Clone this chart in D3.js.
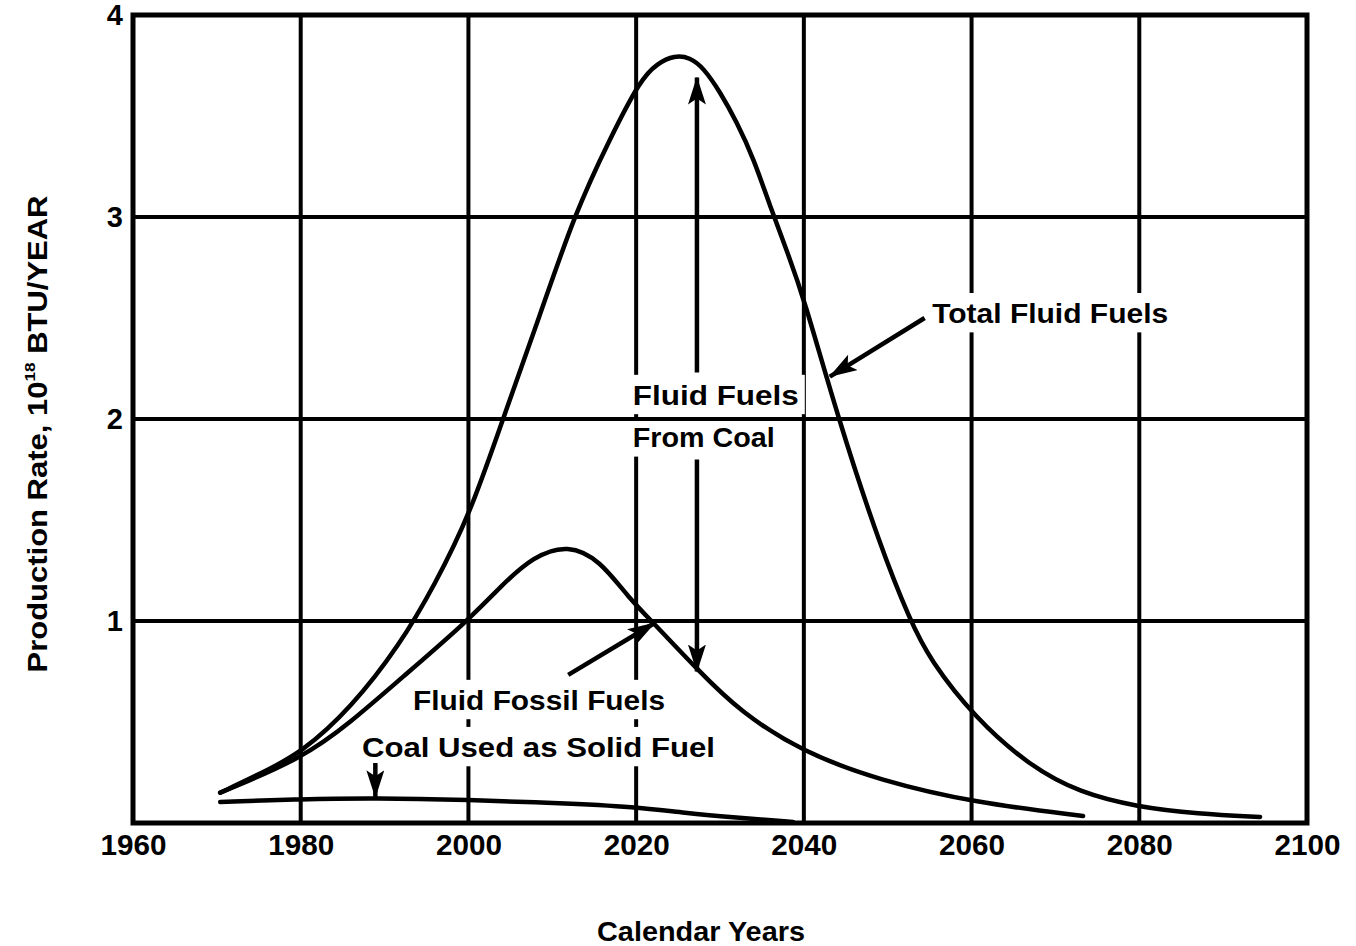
<!DOCTYPE html>
<html>
<head>
<meta charset="utf-8">
<script src="https://cdn.jsdelivr.net/npm/d3@7"></script>
<style>
  html, body { margin: 0; padding: 0; background: #fff; }
  svg { display: block; }
  text { font-family: "Liberation Sans", Arial, sans-serif; font-weight: bold; fill: #000; }
</style>
</head>
<body>
<svg id="chart" width="1356" height="946"></svg>
<script>
// ---------- data ----------
const xTickYears = [1960, 1980, 2000, 2020, 2040, 2060, 2080, 2100];
const yTickValues = [1, 2, 3, 4];
const gridYears = [1980, 2000, 2020, 2040, 2060, 2080];
const gridValues = [1, 2, 3];

const totalYears  = [1970.4, 1975.0, 1980.2, 1986.0, 1991.8, 1996.0, 2000.2, 2004.1, 2008.5, 2012.7, 2016.9, 2020.5, 2022.5, 2024.6, 2026.4, 2028.0, 2030.0, 2032.0, 2034.0, 2036.0, 2038.0, 2040.0, 2044.1, 2049.1, 2052.7, 2055.0, 2060.4, 2067.0, 2072.9, 2079.7, 2087.0, 2094.4];
const totalValues = [0.15,   0.24,   0.35,   0.57,   0.88,   1.18,   1.53,   2.00,   2.51,   3.02,   3.39,   3.68,   3.76,   3.80,   3.79,   3.74,   3.62,   3.47,   3.29,   3.05,   2.83,   2.60,   2.00,   1.37,   1.00,   0.81,   0.52,   0.28,   0.15,   0.08,   0.045,  0.03];

const fossilYears  = [1970.4, 1980.2, 1986.0, 1991.8, 1999.9, 2003.8, 2007.7, 2011.9, 2015.7, 2019.0, 2022.3, 2027.3, 2032.4, 2039.9, 2049.1, 2060.4, 2073.3];
const fossilValues = [0.15,   0.32,   0.50,   0.71,   1.00,   1.17,   1.32,   1.38,   1.30,   1.12,   0.98,   0.76,   0.55,   0.35,   0.21,   0.10,   0.035];

const coalYears  = [1970.4, 1980.0, 1988.9, 2000.2, 2010.0, 2020.2, 2025.6, 2032.4, 2038.7];
const coalValues = [0.104,  0.118,  0.124,  0.114,  0.100,  0.080,  0.050,  0.025,  0.005];

// annotation labels (data units)
const labels = [
  { text: "Total Fluid Fuels",       year: 2055.3, value: 2.475, len: 236 },
  { text: "Fluid Fuels",             year: 2019.6, value: 2.07,  len: 166 },
  { text: "From Coal",               year: 2019.6, value: 1.86,  len: 142 },
  { text: "Fluid Fossil Fuels",      year: 1993.4, value: 0.56,  len: 252 },
  { text: "Coal Used as Solid Fuel", year: 1987.3, value: 0.327, len: 353 }
];
// annotation arrows (data units), arrowhead at the end point
const arrows = [
  { x1: 2054.4, y1: 2.50, x2: 2043.1, y2: 2.21 },
  { x1: 2027.25, y1: 2.23, x2: 2027.25, y2: 3.69 },
  { x1: 2027.25, y1: 1.80, x2: 2027.25, y2: 0.75 },
  { x1: 2011.9, y1: 0.733, x2: 2022.2, y2: 0.99 },
  { x1: 1988.9, y1: 0.297, x2: 1988.9, y2: 0.128 }
];

// ---------- layout ----------
const plotLeft = 133, plotRight = 1307, plotTop = 15, plotBottom = 823;

const svg = d3.select("#chart");
const x = d3.scaleLinear().domain([1960, 2100]).range([plotLeft, plotRight]);
const y = d3.scaleLinear().domain([0, 4]).range([plotBottom, plotTop]);

svg.append("defs").append("marker")
  .attr("id", "arrowhead")
  .attr("markerUnits", "userSpaceOnUse")
  .attr("viewBox", "0 0 28 18")
  .attr("markerWidth", 28).attr("markerHeight", 18)
  .attr("refX", 27).attr("refY", 9)
  .attr("orient", "auto")
  .append("path").attr("d", "M0,0 L28,9 L0,18 L6,9 Z").attr("fill", "#000");

// vertical grid lines
svg.append("g").selectAll("line").data(gridYears).join("line")
  .attr("x1", d => x(d)).attr("x2", d => x(d))
  .attr("y1", plotTop).attr("y2", plotBottom)
  .attr("stroke", "#000").attr("stroke-width", 4);

// white knock-out boxes behind the labels
const fontSize = 28;
svg.append("g").selectAll("rect").data(labels).join("rect")
  .attr("x", d => x(d.year) - 6).attr("y", d => y(d.value) - fontSize * 0.93 - 4)
  .attr("width", d => d.len + 12).attr("height", fontSize * 1.12 + 8)
  .attr("fill", "#fff");

// horizontal grid lines
svg.append("g").selectAll("line").data(gridValues).join("line")
  .attr("x1", plotLeft).attr("x2", plotRight)
  .attr("y1", d => y(d)).attr("y2", d => y(d))
  .attr("stroke", "#000").attr("stroke-width", 4);

// frame
svg.append("rect")
  .attr("x", plotLeft).attr("y", plotTop)
  .attr("width", plotRight - plotLeft).attr("height", plotBottom - plotTop)
  .attr("fill", "none").attr("stroke", "#000").attr("stroke-width", 5);

// curves
const line = d3.line().x(d => x(d[0])).y(d => y(d[1])).curve(d3.curveBasis);
const series = [
  d3.zip(totalYears, totalValues),
  d3.zip(fossilYears, fossilValues),
  d3.zip(coalYears, coalValues)
];
svg.append("g").selectAll("path").data(series).join("path")
  .attr("d", line)
  .attr("fill", "none").attr("stroke", "#000")
  .attr("stroke-width", 4.5).attr("stroke-linecap", "round").attr("stroke-linejoin", "round");

// labels
svg.append("g").selectAll("text").data(labels).join("text")
  .attr("x", d => x(d.year)).attr("y", d => y(d.value))
  .attr("font-size", fontSize)
  .attr("textLength", d => d.len).attr("lengthAdjust", "spacingAndGlyphs")
  .text(d => d.text);

// arrows
svg.append("g").selectAll("line").data(arrows).join("line")
  .attr("x1", d => x(d.x1)).attr("y1", d => y(d.y1))
  .attr("x2", d => x(d.x2)).attr("y2", d => y(d.y2))
  .attr("stroke", "#000").attr("stroke-width", 4.5)
  .attr("marker-end", "url(#arrowhead)");

// x axis tick labels
const xAxis = d3.axisBottom(x).tickValues(xTickYears).tickFormat(d3.format("d")).tickSize(0).tickPadding(0);
const gx = svg.append("g").attr("transform", `translate(0,${plotBottom})`).call(xAxis);
gx.select(".domain").remove();
gx.selectAll("text")
  .attr("font-size", 29).attr("font-family", "Liberation Sans, Arial, sans-serif")
  .attr("font-weight", "bold").attr("fill", "#000")
  .attr("dy", null).attr("y", 32)
  .attr("textLength", 66).attr("lengthAdjust", "spacingAndGlyphs");

// y axis tick labels
const yAxis = d3.axisLeft(y).tickValues(yTickValues).tickFormat(d3.format("d")).tickSize(0).tickPadding(0);
const gy = svg.append("g").attr("transform", `translate(${plotLeft - 10},0)`).call(yAxis);
gy.select(".domain").remove();
gy.selectAll("text")
  .attr("font-size", 29).attr("font-family", "Liberation Sans, Arial, sans-serif")
  .attr("font-weight", "bold").attr("fill", "#000")
  .attr("dy", null).attr("y", 9);

// axis titles
svg.append("text")
  .attr("x", 701).attr("y", 941)
  .attr("text-anchor", "middle")
  .attr("font-size", 27)
  .attr("textLength", 208).attr("lengthAdjust", "spacingAndGlyphs")
  .text("Calendar Years");

const yl = svg.append("text")
  .attr("transform", "translate(47,434) rotate(-90)")
  .attr("text-anchor", "middle")
  .attr("font-size", 27);
yl.append("tspan").text("Production Rate, 10");
yl.append("tspan").attr("font-size", 15).attr("dy", -12).text("18");
yl.append("tspan").attr("dy", 12).text(" BTU/YEAR");
yl.attr("textLength", 477).attr("lengthAdjust", "spacingAndGlyphs");
</script>
</body>
</html>
